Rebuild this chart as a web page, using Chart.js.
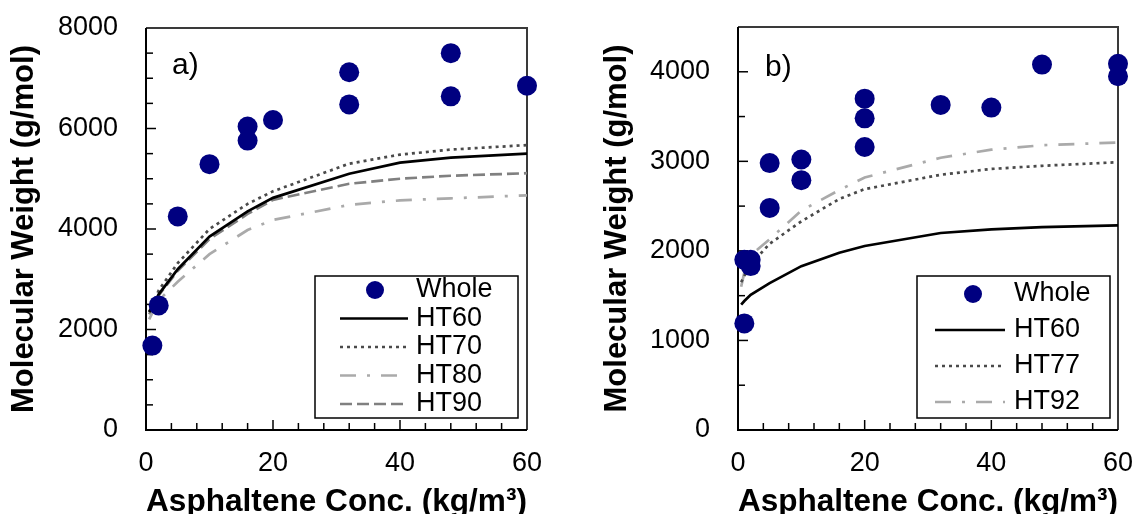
<!DOCTYPE html>
<html>
<head>
<meta charset="utf-8">
<script src="https://cdn.jsdelivr.net/npm/chart.js@4.4.1/dist/chart.umd.min.js"></script>
<style>
  html, body { margin: 0; padding: 0; background: #fff; overflow: hidden; }
  #wrap { position: relative; width: 1139px; height: 514px; }
  canvas { position: absolute; top: 0; }
  #chartA { left: 0; }
  #chartB { left: 570px; }
</style>
</head>
<body>
<div id="wrap">
  <canvas id="chartA" width="560" height="514"></canvas>
  <canvas id="chartB" width="569" height="514"></canvas>
</div>
<script>
// model curves are evaluated at these concentrations
var fitConc = [0.5, 1, 2, 5, 10, 16, 20, 32, 40, 48, 60];

// panel a) measured whole asphaltenes
var concA  = [1, 2, 5, 10, 16, 16, 20, 32, 32, 48, 48, 60];
var wholeA = [1680, 2480, 4250, 5290, 6040, 5760, 6170, 7120, 6480, 7500, 6640, 6850];
// panel a) model curves
var ht60A = [2350, 2450, 2700, 3200, 3850, 4350, 4620, 5100, 5320, 5420, 5500];
var ht70A = [2350, 2480, 2780, 3320, 4000, 4500, 4750, 5300, 5480, 5580, 5670];
var ht80A = [2200, 2330, 2580, 2950, 3500, 3980, 4180, 4480, 4570, 4610, 4670];
var ht90A = [2300, 2420, 2680, 3170, 3800, 4300, 4580, 4900, 5000, 5060, 5110];

// panel b) measured whole asphaltenes
var concB  = [1, 1, 2, 2, 5, 5, 10, 10, 20, 20, 20, 32, 40, 48, 60, 60];
var wholeB = [1190, 1900, 1900, 1830, 2980, 2480, 3020, 2790, 3700, 3480, 3160, 3630, 3600, 4080, 4090, 3950];
// panel b) model curves
var ht60B = [1400, 1440, 1510, 1640, 1830, 1980, 2055, 2200, 2240, 2265, 2285];
var ht77B = [1650, 1720, 1850, 2080, 2330, 2580, 2690, 2850, 2915, 2950, 2990];
var ht92B = [1600, 1760, 1950, 2130, 2450, 2680, 2820, 3040, 3130, 3180, 3210];

// tick labels
var xTicks  = [0, 20, 40, 60];
var yTicksA = [0, 2000, 4000, 6000, 8000];
var yTicksB = [0, 1000, 2000, 3000, 4000];

var FONT = '"Liberation Sans", Arial, sans-serif';

function pts(xs, ys) {
  return xs.map(function (x, i) { return { x: x, y: ys[i] }; });
}

function wholeSet(xs, ys) {
  return { label: 'Whole', data: pts(xs, ys), showLine: false, pointRadius: 10,
           pointBackgroundColor: '#000080', pointBorderWidth: 0, clip: false };
}

function curveSet(label, ys, color, dash) {
  return { label: label, data: pts(fitConc, ys), showLine: true, pointRadius: 0,
           borderColor: color, borderWidth: 2.7, borderDash: dash, tension: 0 };
}

function plain(v) { return String(v); }

// frame, inward tick marks, boxed legend and panel letter
var panelDeco = {
  id: 'panelDeco',
  beforeDatasetsDraw: function (chart, args, o) {
    var ctx = chart.ctx, a = chart.chartArea, sx = chart.scales.x, sy = chart.scales.y;
    ctx.save();
    ctx.strokeStyle = '#000';
    ctx.lineWidth = 1.5;
    var v, p, len;
    for (v = sx.min; v <= sx.max; v += o.xMinor) {
      p = sx.getPixelForValue(v);
      len = (v % o.xMajor === 0) ? 10 : 7;
      ctx.beginPath(); ctx.moveTo(p, a.bottom); ctx.lineTo(p, a.bottom - len); ctx.stroke();
    }
    for (v = sy.min; v <= sy.max; v += o.yMinor) {
      p = sy.getPixelForValue(v);
      len = (v % o.yMajor === 0) ? 10 : 7;
      ctx.beginPath(); ctx.moveTo(a.left, p); ctx.lineTo(a.left + len, p); ctx.stroke();
    }
    ctx.lineWidth = 2;
    ctx.strokeStyle = '#3a3a3a';
    ctx.beginPath();
    ctx.moveTo(a.left, a.top); ctx.lineTo(a.right, a.top); ctx.lineTo(a.right, a.bottom);
    ctx.stroke();
    ctx.strokeStyle = '#000';
    ctx.beginPath();
    ctx.moveTo(a.left, a.top); ctx.lineTo(a.left, a.bottom); ctx.lineTo(a.right, a.bottom);
    ctx.stroke();
    ctx.restore();
  },
  afterDraw: function (chart, args, o) {
    var ctx = chart.ctx, b = o.box;
    ctx.save();
    ctx.fillStyle = '#fff';
    ctx.fillRect(b[0], b[1], b[2], b[3]);
    ctx.strokeStyle = '#000';
    ctx.lineWidth = 1.5;
    ctx.strokeRect(b[0], b[1], b[2], b[3]);
    ctx.font = '27px ' + FONT;
    ctx.textBaseline = 'middle';
    chart.data.datasets.forEach(function (ds, i) {
      var cy = o.rowTop + i * o.rowGap;
      if (ds.showLine) {
        ctx.strokeStyle = ds.borderColor;
        ctx.lineWidth = ds.borderWidth;
        ctx.setLineDash(ds.borderDash || []);
        ctx.beginPath(); ctx.moveTo(o.lineX0, cy); ctx.lineTo(o.lineX1, cy); ctx.stroke();
        ctx.setLineDash([]);
      } else {
        ctx.fillStyle = ds.pointBackgroundColor;
        ctx.beginPath(); ctx.arc(o.markX, cy, ds.pointRadius - 1, 0, Math.PI * 2); ctx.fill();
      }
      ctx.fillStyle = '#000';
      ctx.fillText(ds.label, o.textX, cy);
    });
    ctx.font = '30px ' + FONT;
    ctx.fillText(o.label, o.labelX, o.labelY);
    ctx.restore();
  }
};

function makeChart(id, datasets, yMax, yTicks, rightPad, titlePad, deco) {
  return new Chart(document.getElementById(id), {
    type: 'scatter',
    data: { datasets: datasets },
    plugins: [panelDeco],
    options: {
      responsive: false,
      animation: false,
      events: [],
      layout: { padding: { top: deco.axisTop, right: rightPad, left: 0, bottom: 0 } },
      plugins: { legend: { display: false }, tooltip: { enabled: false }, panelDeco: deco },
      scales: {
        x: {
          type: 'linear', min: 0, max: 60,
          afterBuildTicks: function (s) { s.ticks = xTicks.map(function (v) { return { value: v }; }); },
          afterFit: function (s) { s.height = 84; s.paddingLeft = 0; s.paddingRight = 0; },
          grid: { display: false, drawTicks: false },
          border: { display: false },
          ticks: { font: { family: FONT, size: 27 }, color: '#000', padding: 17, maxRotation: 0, callback: plain },
          title: { display: true, text: 'Asphaltene Conc. (kg/m\u00b3)', color: '#000',
                   font: { family: FONT, size: 32, weight: 'bold', lineHeight: 0.72 },
                   padding: { top: 0, bottom: 0 } }
        },
        y: {
          type: 'linear', min: 0, max: yMax,
          afterBuildTicks: function (s) { s.ticks = yTicks.map(function (v) { return { value: v }; }); },
          afterFit: function (s) { s.width = deco.axisLeft; s.paddingTop = 0; s.paddingBottom = 0; },
          grid: { display: false, drawTicks: false },
          border: { display: false },
          ticks: { font: { family: FONT, size: 27 }, color: '#000', padding: 28, callback: plain },
          title: { display: true, text: 'Molecular Weight (g/mol)', color: '#000',
                   font: { family: FONT, size: 31, weight: 'bold', lineHeight: 1 },
                   padding: { top: titlePad, bottom: 0 } }
        }
      }
    }
  });
}

makeChart('chartA', [
  wholeSet(concA, wholeA),
  curveSet('HT60', ht60A, '#000000', []),
  curveSet('HT70', ht70A, '#4a4a4a', [3, 4]),
  curveSet('HT80', ht80A, '#aaaaaa', [16, 11, 3, 11]),
  curveSet('HT90', ht90A, '#808080', [12, 5])
], 8000, yTicksA, 33, 8.5, {
  axisLeft: 146, axisTop: 28, xMinor: 4, xMajor: 20, yMinor: 500, yMajor: 2000,
  box: [315, 276, 203, 142], rowTop: 290, rowGap: 28.5,
  lineX0: 340, lineX1: 408, markX: 375, textX: 416,
  label: 'a)', labelX: 172, labelY: 66
});

makeChart('chartB', [
  wholeSet(concB, wholeB),
  curveSet('HT60', ht60B, '#000000', []),
  curveSet('HT77', ht77B, '#4a4a4a', [3, 4]),
  curveSet('HT92', ht92B, '#aaaaaa', [16, 11, 3, 11])
], 4500, yTicksB, 21, 31.5, {
  axisLeft: 168, axisTop: 27, xMinor: 4, xMajor: 20, yMinor: 500, yMajor: 1000,
  box: [347, 276, 193, 142], rowTop: 294, rowGap: 36,
  lineX0: 365, lineX1: 435, markX: 403, textX: 444,
  label: 'b)', labelX: 195, labelY: 68
});
</script>
</body>
</html>
